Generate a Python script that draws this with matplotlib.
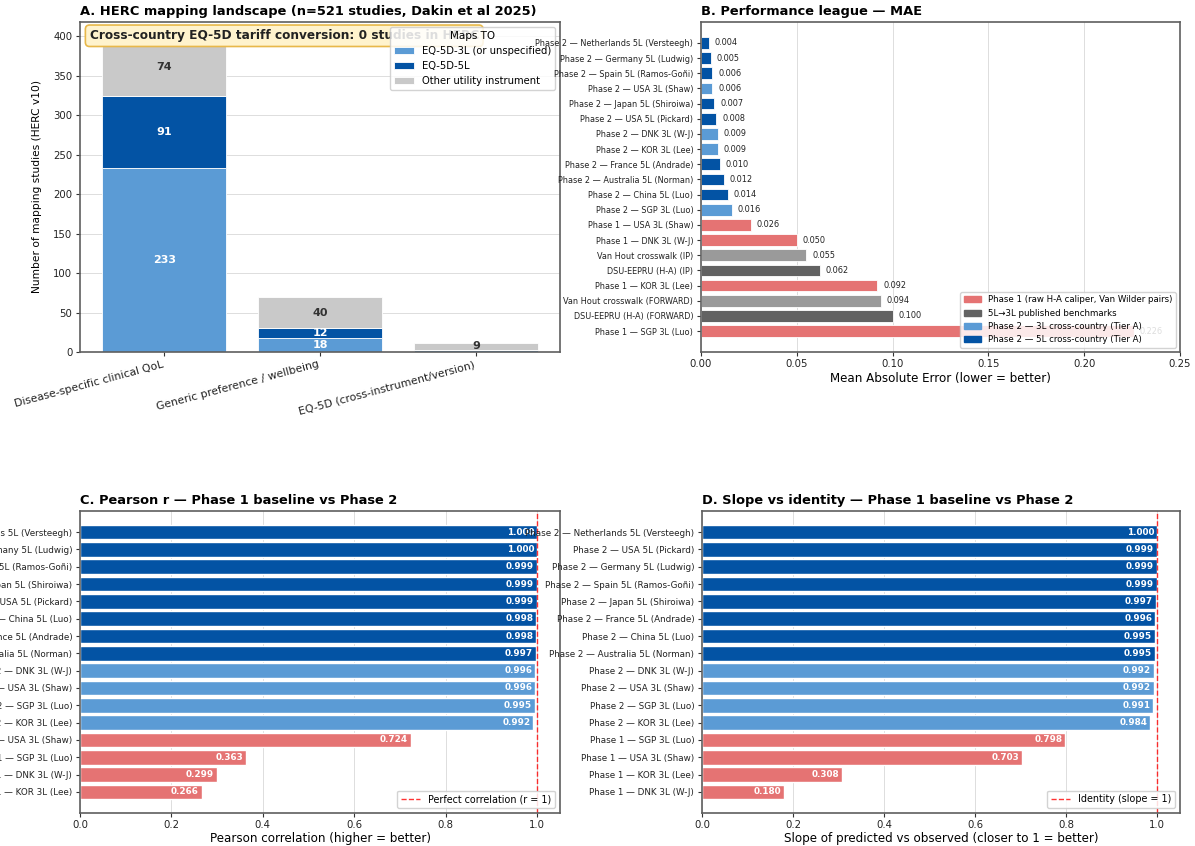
import matplotlib
matplotlib.use("Agg")
import matplotlib.pyplot as plt
from matplotlib.patches import Patch
import numpy as np

# ---------------- data ----------------
herc_categories = ["Disease-specific clinical QoL", "Generic preference / wellbeing",
                   "EQ-5D (cross-instrument/version)"]
herc_eq5d_3l = [233, 18, 3]
herc_eq5d_5l = [91, 12, 0]
herc_other = [74, 40, 9]

mae_labels = [
    "Phase 2 — Netherlands 5L (Versteegh)", "Phase 2 — Germany 5L (Ludwig)",
    "Phase 2 — Spain 5L (Ramos-Goñi)", "Phase 2 — USA 3L (Shaw)",
    "Phase 2 — Japan 5L (Shiroiwa)", "Phase 2 — USA 5L (Pickard)",
    "Phase 2 — DNK 3L (W-J)", "Phase 2 — KOR 3L (Lee)",
    "Phase 2 — France 5L (Andrade)", "Phase 2 — Australia 5L (Norman)",
    "Phase 2 — China 5L (Luo)", "Phase 2 — SGP 3L (Luo)",
    "Phase 1 — USA 3L (Shaw)", "Phase 1 — DNK 3L (W-J)",
    "Van Hout crosswalk (IP)", "DSU-EEPRU (H-A) (IP)",
    "Phase 1 — KOR 3L (Lee)", "Van Hout crosswalk (FORWARD)",
    "DSU-EEPRU (H-A) (FORWARD)", "Phase 1 — SGP 3L (Luo)",
]
mae_values = [0.004, 0.005, 0.006, 0.006, 0.007, 0.008, 0.009, 0.009, 0.010, 0.012,
              0.014, 0.016, 0.026, 0.050, 0.055, 0.062, 0.092, 0.094, 0.100, 0.226]
mae_groups = ["p2_5l", "p2_5l", "p2_5l", "p2_3l", "p2_5l", "p2_5l", "p2_3l", "p2_3l",
              "p2_5l", "p2_5l", "p2_5l", "p2_3l", "p1", "p1", "vh", "dsu",
              "p1", "vh", "dsu", "p1"]

r_labels = [
    "Phase 2 — Netherlands 5L (Versteegh)", "Phase 2 — Germany 5L (Ludwig)",
    "Phase 2 — Spain 5L (Ramos-Goñi)", "Phase 2 — Japan 5L (Shiroiwa)",
    "Phase 2 — USA 5L (Pickard)", "Phase 2 — China 5L (Luo)",
    "Phase 2 — France 5L (Andrade)", "Phase 2 — Australia 5L (Norman)",
    "Phase 2 — DNK 3L (W-J)", "Phase 2 — USA 3L (Shaw)",
    "Phase 2 — SGP 3L (Luo)", "Phase 2 — KOR 3L (Lee)",
    "Phase 1 — USA 3L (Shaw)", "Phase 1 — SGP 3L (Luo)",
    "Phase 1 — DNK 3L (W-J)", "Phase 1 — KOR 3L (Lee)",
]
r_values = [1.000, 1.000, 0.999, 0.999, 0.999, 0.998, 0.998, 0.997,
            0.996, 0.996, 0.995, 0.992, 0.724, 0.363, 0.299, 0.266]
r_groups = ["p2_5l"] * 8 + ["p2_3l"] * 4 + ["p1"] * 4

slope_labels = [
    "Phase 2 — Netherlands 5L (Versteegh)", "Phase 2 — USA 5L (Pickard)",
    "Phase 2 — Germany 5L (Ludwig)", "Phase 2 — Spain 5L (Ramos-Goñi)",
    "Phase 2 — Japan 5L (Shiroiwa)", "Phase 2 — France 5L (Andrade)",
    "Phase 2 — China 5L (Luo)", "Phase 2 — Australia 5L (Norman)",
    "Phase 2 — DNK 3L (W-J)", "Phase 2 — USA 3L (Shaw)",
    "Phase 2 — SGP 3L (Luo)", "Phase 2 — KOR 3L (Lee)",
    "Phase 1 — SGP 3L (Luo)", "Phase 1 — USA 3L (Shaw)",
    "Phase 1 — KOR 3L (Lee)", "Phase 1 — DNK 3L (W-J)",
]
slope_values = [1.000, 0.999, 0.999, 0.999, 0.997, 0.996, 0.995, 0.995,
                0.992, 0.992, 0.991, 0.984, 0.798, 0.703, 0.308, 0.180]
slope_groups = ["p2_5l"] * 8 + ["p2_3l"] * 4 + ["p1"] * 4

# ---------------- styling ----------------
C_3L = "#5B9BD5"
C_5L = "#0353A4"
C_OTHER = "#C9C9C9"
C_P1 = "#E57373"
C_VH = "#9A9A9A"
C_DSU = "#626262"
group_colors = {"p2_5l": C_5L, "p2_3l": C_3L, "p1": C_P1, "vh": C_VH, "dsu": C_DSU}

plt.rcParams.update({
    "font.family": "DejaVu Sans",
    "axes.edgecolor": "#5f5f5f",
    "axes.linewidth": 1.2,
    "xtick.color": "#333333",
    "ytick.color": "#333333",
    "xtick.labelcolor": "#222222",
    "ytick.labelcolor": "#222222",
    "xtick.labelsize": 7.3,
    "ytick.labelsize": 7.3,
    "xtick.major.size": 3.0,
    "ytick.major.size": 3.0,
    "xtick.major.pad": 2.2,
    "ytick.major.pad": 2.5,
})

fig = plt.figure(figsize=(11.95, 8.46), dpi=100)
W, H = 1195.0, 846.0


def place(x0, y0, x1, y1):
    return fig.add_axes([x0 / W, 1 - y1 / H, (x1 - x0) / W, (y1 - y0) / H])


axA = place(80, 22, 560, 352)
axB = place(701, 22, 1180, 352)
axC = place(80, 511, 560, 813)
axD = place(702, 511, 1180, 813)

title_kw = dict(fontsize=9.4, fontweight="bold", loc="left", pad=5)
XLABEL_SIZE = 8.6

# ---------------- A: HERC landscape ----------------
x = np.arange(len(herc_categories))
axA.bar(x, herc_eq5d_3l, width=0.8, color=C_3L, edgecolor="white", linewidth=0.6,
        label="EQ-5D-3L (or unspecified)")
axA.bar(x, herc_eq5d_5l, width=0.8, bottom=herc_eq5d_3l, color=C_5L,
        edgecolor="white", linewidth=0.6, label="EQ-5D-5L")
bottom_other = np.array(herc_eq5d_3l) + np.array(herc_eq5d_5l)
axA.bar(x, herc_other, width=0.8, bottom=bottom_other, color=C_OTHER,
        edgecolor="white", linewidth=0.6, label="Other utility instrument")
for i in range(len(x)):
    segs = [(herc_eq5d_3l[i], 0, "white"),
            (herc_eq5d_5l[i], herc_eq5d_3l[i], "white"),
            (herc_other[i], bottom_other[i], "#333333")]
    for val, base, col in segs:
        if val >= 5:
            axA.text(x[i], base + val / 2, f"{val}", ha="center", va="center",
                     fontsize=8, fontweight="bold", color=col)
axA.set_xticks(x)
axA.set_xticklabels(herc_categories, rotation=15, ha="right", fontsize=7.8)
axA.set_ylabel("Number of mapping studies (HERC v10)", fontsize=7.7, labelpad=8)
axA.yaxis.grid(True, color="#dddddd", linewidth=0.7)
axA.set_axisbelow(True)
axA.set_title("A. HERC mapping landscape (n=521 studies, Dakin et al 2025)", **title_kw)
axA.text(0.02, 0.978, "Cross-country EQ-5D tariff conversion: 0 studies in HERC",
         transform=axA.transAxes, ha="left", va="top", fontsize=8.7, fontweight="bold",
         color="#222222",
         bbox=dict(boxstyle="round,pad=0.35", facecolor="#FFF3CD", edgecolor="#E8B84A",
                   linewidth=1.2))
axA.legend(title="Maps TO", loc="upper right", fontsize=7.2, title_fontsize=7.5,
           framealpha=0.85)

# ---------------- B: MAE league ----------------
yb = np.arange(len(mae_labels))
axB.barh(yb, mae_values, height=0.78, color=[group_colors[g] for g in mae_groups],
         edgecolor="white", linewidth=0.6)
for yi, v in zip(yb, mae_values):
    axB.text(v + 0.003, yi, f"{v:.3f}", va="center", ha="left", fontsize=5.9,
             color="#222222")
axB.set_yticks(yb)
axB.set_yticklabels(mae_labels, fontsize=5.9)
axB.invert_yaxis()
axB.set_xlim(0, 0.25)
axB.set_xlabel("Mean Absolute Error (lower = better)", fontsize=XLABEL_SIZE, labelpad=2)
axB.xaxis.grid(True, color="#dddddd", linewidth=0.7)
axB.set_axisbelow(True)
axB.set_title("B. Performance league — MAE", **title_kw)
handlesB = [Patch(color=C_P1, label="Phase 1 (raw H-A caliper, Van Wilder pairs)"),
            Patch(color=C_DSU, label="5L→3L published benchmarks"),
            Patch(color=C_3L, label="Phase 2 — 3L cross-country (Tier A)"),
            Patch(color=C_5L, label="Phase 2 — 5L cross-country (Tier A)")]
axB.legend(handles=handlesB, loc="lower right", fontsize=6.2, framealpha=0.85)


# ---------------- C / D: correlation and slope ----------------
def ranking_panel(ax, labels, values, groups, title, xlabel, line_label):
    y = np.arange(len(labels))
    ax.barh(y, values, height=0.85, color=[group_colors[g] for g in groups],
            edgecolor="white", linewidth=1.0)
    for yi, v in zip(y, values):
        ax.text(v - 0.006, yi, f"{v:.3f}", va="center", ha="right", fontsize=6.4,
                fontweight="bold", color="white")
    ax.axvline(1.0, color="red", linestyle="--", linewidth=1.0, alpha=0.8, label=line_label)
    ax.set_yticks(y)
    ax.set_yticklabels(labels, fontsize=6.3)
    ax.invert_yaxis()
    ax.set_xlim(0, 1.05)
    ax.set_xlabel(xlabel, fontsize=XLABEL_SIZE, labelpad=1)
    ax.xaxis.grid(True, color="#dddddd", linewidth=0.7)
    ax.set_axisbelow(True)
    ax.set_title(title, **title_kw)
    ax.legend(loc="lower right", fontsize=6.9, framealpha=0.85)


ranking_panel(axC, r_labels, r_values, r_groups,
              "C. Pearson r — Phase 1 baseline vs Phase 2",
              "Pearson correlation (higher = better)", "Perfect correlation (r = 1)")
ranking_panel(axD, slope_labels, slope_values, slope_groups,
              "D. Slope vs identity — Phase 1 baseline vs Phase 2",
              "Slope of predicted vs observed (closer to 1 = better)", "Identity (slope = 1)")

fig.savefig("out.png", dpi=100)
